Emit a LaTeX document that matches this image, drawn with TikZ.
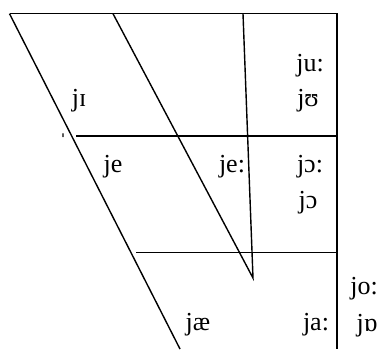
\documentclass[tikz,border=0pt]{standalone}
\usepackage{fontspec}
\setmainfont{Liberation Serif}
\begin{document}
\begin{tikzpicture}[x=1pt,y=-1pt,line width=1.4pt,
  lbl/.style={inner sep=0pt,font=\fontsize{26}{30}\selectfont}]
\useasboundingbox (0,0) rectangle (386,349);
% corners
\coordinate (tl) at (9.5,13.7);
\coordinate (tm) at (113,13.7);
\coordinate (tv) at (243,13.7);
\coordinate (tr) at (337,13.7);
\coordinate (br) at (337,349);
\coordinate (bl) at (180,349);
\coordinate (tip) at (253,278);
\coordinate (h1a) at (76,136);
\coordinate (h1b) at (337,136);
\coordinate (h2a) at (136,252.7);
\coordinate (h2b) at (337,252.7);
\draw (tl) -- (tr) -- (br);
\draw (tl) -- (bl);
\draw (tm) -- (tip) -- (tv);
\draw (h1a) -- (h1b);
\draw (h2a) -- (h2b);
% labels
\node[lbl] (ju) at (310,66) {ju:};
\node[lbl] (jU) at (308,101) {jʊ};
\node[lbl] (jI) at (79,101) {jɪ};
\node[inner sep=0pt,anchor=north,font=\fontsize{24}{24}\selectfont] (tick) at (63,133.5) {ˈ};
\node[lbl] (je) at (113,167) {je};
\node[lbl] (jee) at (232,167) {je:};
\node[lbl] (jOO) at (310,167) {jɔ:};
\node[lbl] (jO) at (308,203) {jɔ};
\node[lbl] (joo) at (364,289) {jo:};
\node[lbl] (jQ) at (367,326) {jɒ};
\node[lbl] (jaa) at (316,325) {ja:};
\node[lbl] (jae) at (198,325) {jæ};
\end{tikzpicture}
\end{document}
